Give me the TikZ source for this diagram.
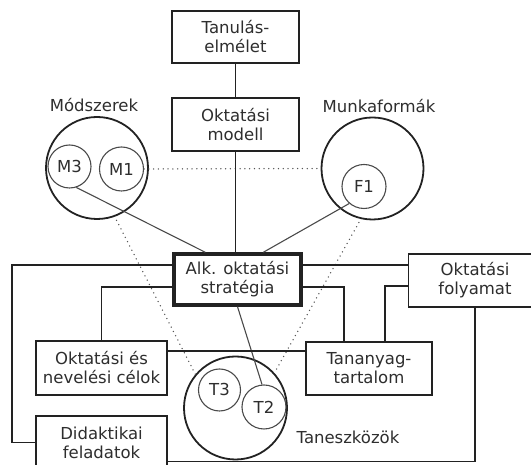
\documentclass[tikz,border=0pt]{standalone}
\usepackage{fontspec}
\setmainfont{DejaVu Sans}
\definecolor{ink}{HTML}{222222}
\definecolor{soft}{HTML}{4A4A4A}
\definecolor{dotc}{HTML}{555555}
\definecolor{txt}{HTML}{2E2E2E}
\begin{document}
\begin{tikzpicture}[x=1pt,y=1pt,
  every node/.style={font=\fontsize{16.5}{19}\selectfont, text=txt},
  box/.style={draw=ink, line width=1.8pt, fill=white, align=center, inner sep=0pt},
  mainbox/.style={box, line width=3.4pt},
  group/.style={circle, draw=ink, line width=1.8pt, inner sep=0pt, minimum size=102pt},
  item/.style={circle, draw=soft, line width=1.1pt, inner sep=0pt, minimum size=44pt},
  link/.style={draw=ink, line width=1.8pt},
  thinlink/.style={draw=soft, line width=1.1pt},
  dots/.style={draw=dotc, line width=1.5pt, line cap=round, dash pattern=on 0pt off 4.8pt},
]
\useasboundingbox (0,0) rectangle (531,465);
\begin{scope}
\clip (0,0) rectangle (531,465);

% boxes
\node[box, minimum width=127pt, minimum height=52pt] (tan) at (235.5,428) {Tanulás-\\elmélet};
\node[box, minimum width=127pt, minimum height=53pt] (model) at (235.5,340.5) {Oktatási\\modell};
\node[mainbox, minimum width=127pt, minimum height=51pt] (strat) at (237.5,185.5) {Alk. oktatási\\stratégia};
\node[box, minimum width=133pt, minimum height=53pt] (foly) at (475,184.5) {Oktatási\\folyamat};
\node[box, minimum width=131pt, minimum height=54pt] (celok) at (101.5,97) {Oktatási és\\nevelési célok};
\node[box, minimum width=126pt, minimum height=53pt] (tananyag) at (369,96.5) {Tananyag-\\tartalom};
\node[box, minimum width=131pt, minimum height=53pt] (didakt) at (101.5,22.5) {Didaktikai\\feladatok};

% groups of elements
\node[group] (modg) at (97,297) {};
\node[item, minimum size=43pt] (M3) at (69.5,298.5) {M3};
\node[item] (M1) at (121.5,296) {M1};
\node[group] (munkg) at (372.5,296.5) {};
\node[item] (F1) at (364,278.5) {F1};
\node[group, minimum size=103pt] (tang) at (235.5,57) {};
\node[item, minimum size=42pt] (T3) at (219.5,75) {T3};
\node[item] (T2) at (264,58) {T2};

\node (modl) at (94,360) {Módszerek};
\node (munkl) at (379,358.5) {Munkaformák};
\node (tangl) at (348,28) {Taneszközök};

% dotted relations
\draw[dots] (M1.east) -- (munkg.west);
\draw[dots, shorten <=4pt] (modg.-70) -- (tang.140);
\draw[dots, shorten <=4pt] (munkg.-103) -- (tang.42);

% vertical chain
\draw[link] (tan.south) -- (model.north);
\draw[link] (model.south) -- (model.south |- strat.north);

% thin links to chosen elements
\draw[thinlink] (M3.-72) -- ([xshift=33pt]strat.north west);
\draw[thinlink] (F1.-131) -- ([xshift=91pt]strat.north west);
\draw[thinlink] (strat.south) -- (T2.95);

% orthogonal connections
\draw[link] ([yshift=-13pt]strat.north west) -| ([xshift=-23.5pt]didakt.west) -- (didakt.west);
\draw[link] ([yshift=-13pt]strat.north east) coordinate (sa) -- (sa -| foly.west);
\draw[link] ([yshift=-35pt]strat.north west) -| (celok.north);
\draw[link] ([yshift=-35pt]strat.north east) -| ([xshift=39pt]tananyag.north west);
\draw[link] ([yshift=-33pt]foly.north west) -| ([xshift=-48pt]tananyag.north east);
\draw[link] ([yshift=-11pt]celok.north east) coordinate (ca) -- (ca -| tananyag.west);
\draw[link] ([yshift=-46.5pt]didakt.north east) -| (foly.south);
\end{scope}
\end{tikzpicture}
\end{document}
